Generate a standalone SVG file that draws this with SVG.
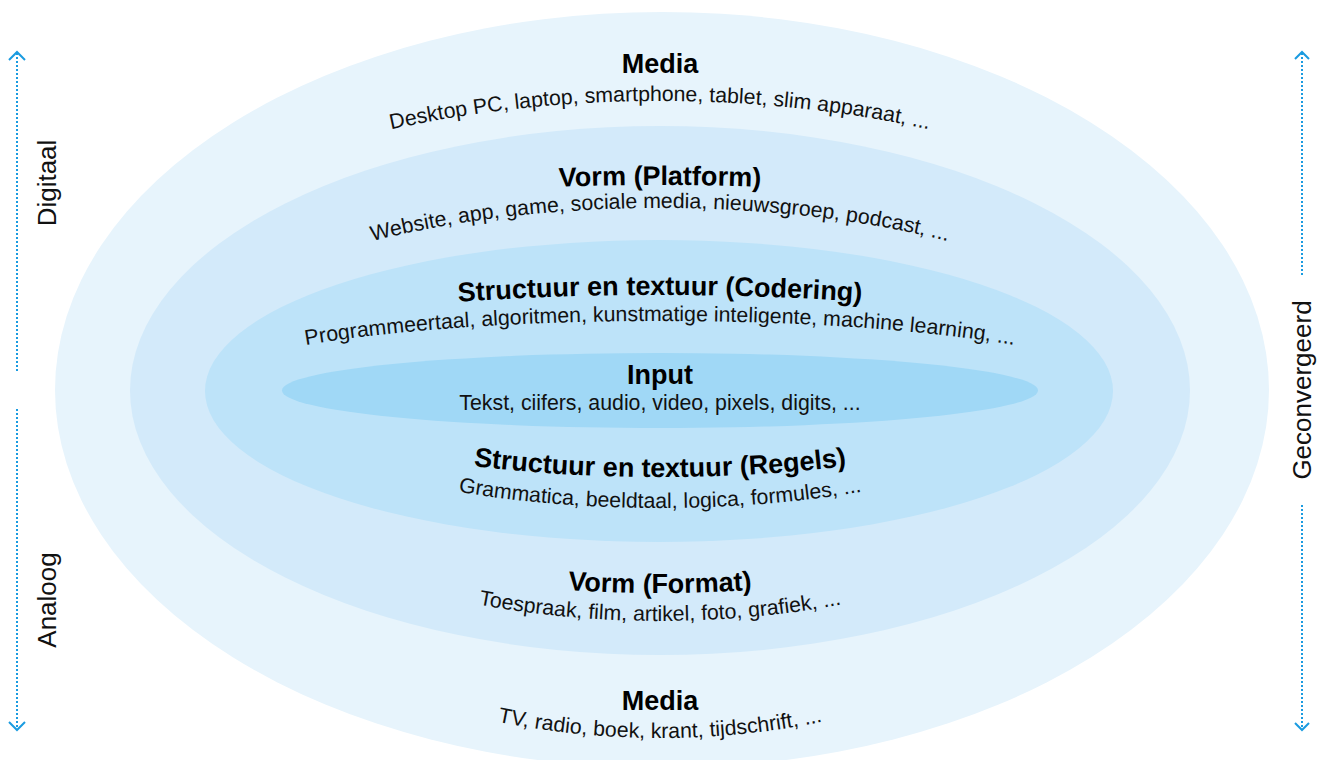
<svg xmlns="http://www.w3.org/2000/svg" xmlns:xlink="http://www.w3.org/1999/xlink" width="1324" height="760" viewBox="0 0 1324 760">
<style>
.title{font-family:"Liberation Sans",Arial,sans-serif;font-weight:bold;font-size:27px;fill:#000;text-anchor:middle}
.sub{font-family:"Liberation Sans",Arial,sans-serif;font-size:21.3px;fill:#111;text-anchor:middle}
.side{font-family:"Liberation Sans",Arial,sans-serif;font-size:26px;fill:#111;text-anchor:middle}
.dot{stroke:#1a9be0;stroke-width:2;stroke-dasharray:2 2;fill:none}
.head{stroke:#1a9be0;stroke-width:2;fill:none}
</style>
<defs>
<path id="p2" d="M 38,390 A 622,289 0 0 1 1282,390"/>
<path id="p3" d="M -94,390 A 754,205 0 0 1 1414,390"/>
<path id="p4" d="M 160,390 A 500,182 0 0 1 1160,390"/>
<path id="p5" d="M 116,390 A 544,95 0 0 1 1204,390"/>
<path id="p6" d="M 193,390 A 467,69 0 0 1 1127,390"/>
<path id="p9" d="M 278,390 A 382,87 0 0 0 1042,390"/>
<path id="p10" d="M 262,390 A 398,118 0 0 0 1058,390"/>
<path id="p11" d="M 127,390 A 533,203 0 0 0 1193,390"/>
<path id="p12" d="M 170,390 A 490,231 0 0 0 1150,390"/>
<path id="p14" d="M 123,390 A 537,348 0 0 0 1197,390"/>
</defs>
<rect width="1324" height="760" fill="#fff"/>
<g id="ring-media">
<ellipse cx="662" cy="390" rx="607" ry="378" fill="#e7f4fc"/>
<text class="title" x="660" y="73">Media</text>
<text class="sub"><textPath xlink:href="#p2" href="#p2" startOffset="50%">Desktop PC, laptop, smartphone, tablet, slim apparaat, ...</textPath></text>
<text class="title" x="660" y="710">Media</text>
<text class="sub"><textPath xlink:href="#p14" href="#p14" startOffset="50%">TV, radio, boek, krant, tijdschrift, ...</textPath></text>
</g>
<g id="ring-vorm">
<ellipse cx="660" cy="390.5" rx="530" ry="264.5" fill="#d3eafa"/>
<text class="title"><textPath xlink:href="#p3" href="#p3" startOffset="50%">Vorm (Platform)</textPath></text>
<text class="sub"><textPath xlink:href="#p4" href="#p4" startOffset="50%">Website, app, game, sociale media, nieuwsgroep, podcast, ...</textPath></text>
<text class="title"><textPath xlink:href="#p11" href="#p11" startOffset="50%">Vorm (Format)</textPath></text>
<text class="sub"><textPath xlink:href="#p12" href="#p12" startOffset="50%">Toespraak, film, artikel, foto, grafiek, ...</textPath></text>
</g>
<g id="ring-structuur">
<ellipse cx="659" cy="391" rx="454" ry="151" fill="#bde3f9"/>
<text class="title"><textPath xlink:href="#p5" href="#p5" startOffset="50%">Structuur en textuur (Codering)</textPath></text>
<text class="sub"><textPath xlink:href="#p6" href="#p6" startOffset="50%">Programmeertaal, algoritmen, kunstmatige inteligente, machine learning, ...</textPath></text>
<text class="title"><textPath xlink:href="#p9" href="#p9" startOffset="50%">Structuur en textuur (Regels)</textPath></text>
<text class="sub"><textPath xlink:href="#p10" href="#p10" startOffset="50%">Grammatica, beeldtaal, logica, formules, ...</textPath></text>
</g>
<g id="ring-input">
<ellipse cx="660" cy="390.5" rx="378" ry="37.5" fill="#a0d8f6"/>
<text class="title" x="660" y="384">Input</text>
<text class="sub" x="660" y="410">Tekst, ciifers, audio, video, pixels, digits, ...</text>
</g>
<g id="label-digitaal"><text class="side" transform="translate(56,183) rotate(-90)">Digitaal</text></g>
<g id="label-analoog"><text class="side" transform="translate(56,600) rotate(-90)">Analoog</text></g>
<g id="label-geconvergeerd"><text class="side" transform="translate(1311,390) rotate(-90)">Geconvergeerd</text></g>
<g id="connectors">
<line class="dot" x1="17" y1="53" x2="17" y2="372"/>
<polyline class="head" points="9,60 17,52 25,60"/>
<line class="dot" x1="17" y1="409" x2="17" y2="729"/>
<polyline class="head" points="9,722 17,730 25,722"/>
<line class="dot" x1="1302" y1="53" x2="1302" y2="276"/>
<polyline class="head" points="1295,59 1302,52 1309,59"/>
<line class="dot" x1="1302" y1="505" x2="1302" y2="729"/>
<polyline class="head" points="1295,723 1302,730 1309,723"/>
</g>
</svg>
